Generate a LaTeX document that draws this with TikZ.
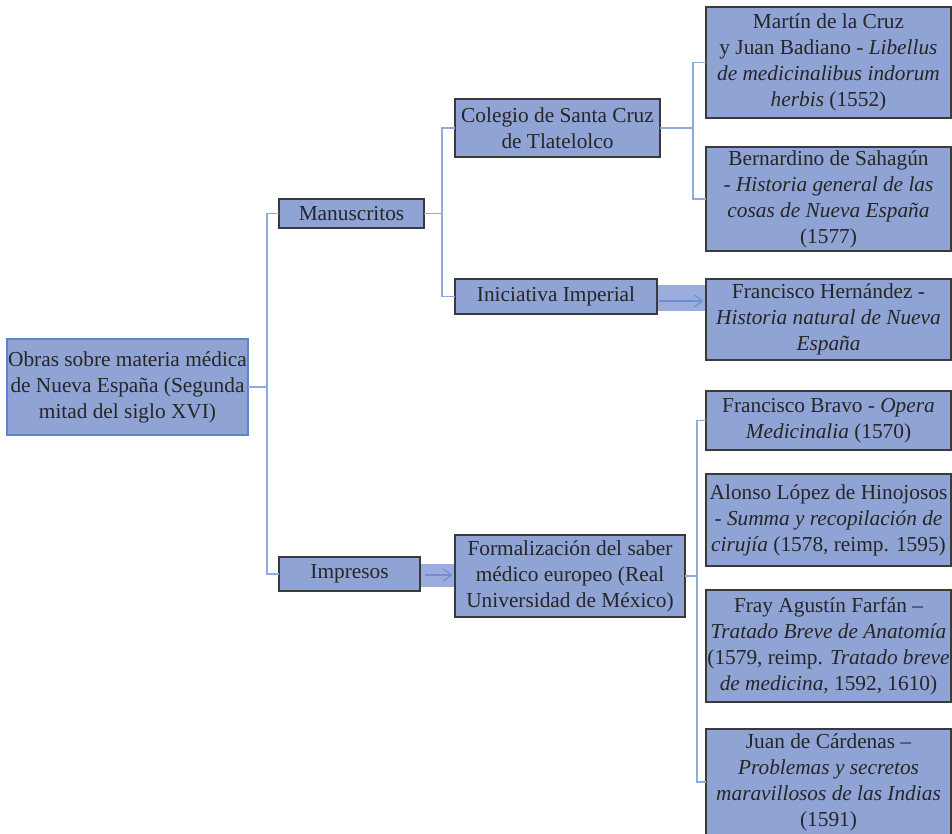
\documentclass[tikz,border=0pt]{standalone}
\usepackage{fontspec}
\setmainfont{Liberation Serif}
\usetikzlibrary{arrows.meta}
\definecolor{boxfill}{HTML}{8FA3D5}
\definecolor{bandfill}{HTML}{9AADDD}
\definecolor{boxline}{HTML}{3A3A3A}
\definecolor{rootline}{HTML}{5F84CC}
\definecolor{connc}{HTML}{8FAADB}
\definecolor{arrc}{HTML}{6E8FD5}
\definecolor{txt}{HTML}{262626}
\begin{document}
\begin{tikzpicture}[x=0.75pt,y=-0.75pt,
  box/.style={draw=boxline,line width=0.9pt,fill=boxfill,inner sep=0pt,outer sep=0pt,
    align=center,text=txt,font=\fontsize{16}{19.5}\selectfont},
  conn/.style={draw=connc,line width=1pt},
  arr/.style={draw=arrc,line width=0.9pt,-{Straight Barb[length=6pt,width=9pt]}},
  band/.style={fill=bandfill}]
\useasboundingbox (0,0) rectangle (952,833);
\fill[white] (0,0) rectangle (952,833);

% bands (behind)
\fill[band] (657,285) rectangle (706,311);
\fill[band] (420,564) rectangle (455,587);

\node[box,draw=rootline,minimum width=180.75pt,minimum height=72pt] (root) at (127.5,387)
  {Obras sobre materia médica\\de Nueva España (Segunda\\mitad del siglo XVI)};
\node[box,minimum width=108.75pt,minimum height=21.75pt] (man) at (351.5,213.5) {Manuscritos};
\node[box,minimum width=105.75pt,minimum height=25.5pt] (imp) at (349.5,574) {Impresos};
\node[box,minimum width=153.75pt,minimum height=43.5pt] (col) at (557.5,128)
  {Colegio de Santa Cruz\\de Tlatelolco};
\node[box,minimum width=151.5pt,minimum height=26.25pt] (ini) at (556,296.5) {Iniciativa Imperial};
\node[box,minimum width=172.5pt,minimum height=61.5pt] (for) at (570,576)
  {Formalización del saber\\médico europeo (Real\\Universidad de México)};

\node[box,minimum width=183.75pt,minimum height=83.25pt] (mar) at (828.5,62.5)
  {Martín de la Cruz\\y Juan Badiano - \textit{Libellus}\\\textit{de medicinalibus indorum}\\\textit{herbis} (1552)};
\node[box,minimum width=183.75pt,minimum height=78pt] (ber) at (828.5,199)
  {Bernardino de Sahagún\\- \textit{Historia general de las}\\\textit{cosas de Nueva España}\\(1577)};
\node[box,minimum width=183.75pt,minimum height=60.75pt] (her) at (828.5,319.5)
  {Francisco Hernández -\\\textit{Historia natural de Nueva}\\\textit{España}};
\node[box,minimum width=183.75pt,minimum height=44.25pt] (bra) at (828.5,420.5)
  {Francisco Bravo - \textit{Opera}\\\textit{Medicinalia} (1570)};
\node[box,minimum width=183.75pt,minimum height=69pt] (alo) at (828.5,520)
  {Alonso López de Hinojosos\\- \textit{Summa y recopilación de}\\\textit{cirujía} (1578, reimp. 1595)};
\node[box,minimum width=183.75pt,minimum height=84pt] (fra) at (828.5,646)
  {Fray Agustín Farfán –\\\textit{Tratado Breve de Anatomía}\\(1579, reimp. \textit{Tratado breve}\\\textit{de medicina}, 1592, 1610)};
\node[box,minimum width=183.75pt,minimum height=79.5pt] (jua) at (828.5,782)
  {Juan de Cárdenas –\\\textit{Problemas y secretos}\\\textit{maravillosos de las Indias}\\(1591)};

% junctions
\coordinate (j1) at (267,387);
\coordinate (j2) at (442,213.5);
\coordinate (j3) at (693,128);
\coordinate (j4) at (697,576);
\draw[conn] (root.east) -- (j1);
\draw[conn] (man.west) -| (j1);
\draw[conn] (imp.west) -| (j1);
\draw[conn] (man.east) -- (j2);
\draw[conn] (col.west) -| (j2);
\draw[conn] (ini.west) -| (j2);
\draw[conn] (col.east) -- (j3);
\draw[conn] (mar.west) -| (j3);
\draw[conn] (ber.west) -| (j3);
\draw[conn] (for.east) -- (j4);
\draw[conn] (bra.west) -| (j4);
\draw[conn] (jua.west) -| (j4);

% arrows
\coordinate (ya) at (0,301);
\coordinate (yb) at (0,575);
\draw[arr] ([xshift=1.5pt]ini.east |- ya) -- ([xshift=-2pt]her.west |- ya);
\draw[arr] ([xshift=4pt]imp.east |- yb) -- ([xshift=-2pt]for.west |- yb);
\end{tikzpicture}
\end{document}
